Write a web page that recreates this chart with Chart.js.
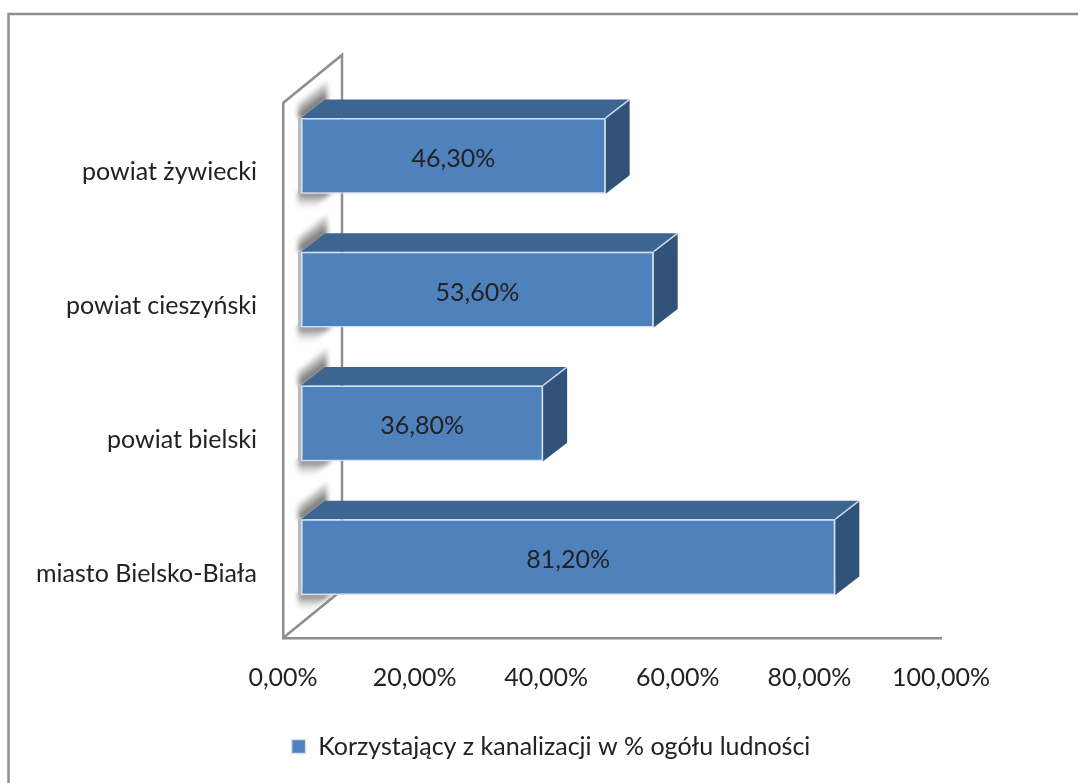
<!DOCTYPE html>
<html>
<head>
<meta charset="utf-8">
<style>html,body{margin:0;padding:0;background:#fff}canvas{display:block}</style>
<script src="https://cdn.jsdelivr.net/npm/chart.js@4"></script>
</head>
<body>
<canvas id="c" width="1078" height="783"></canvas>
<script>
const categories = ['powiat żywiecki', 'powiat cieszyński', 'powiat bielski', 'miasto Bielsko-Biała'];
const values = [46.3, 53.6, 36.8, 81.2];
const seriesName = 'Korzystający z kanalizacji w % ogółu ludności';
const axisMax = 100;
const axisStep = 20;

const FONT = 'Lato, "Open Sans", sans-serif';
const FS = 25;
const TEXT = '#222222';
const GRAY = '#8e8e8e';
const SHIFT_X = 18, SHIFT_Y = -14, DX = 24, DY = 18.5;
const fmt = v => v.toFixed(2).replace('.', ',') + '%';

const scene = {
  id: 'scene',
  afterLayout(chart) {
    chart.legend.left = 161;
    chart.legend.right = 941;
  },
  beforeDraw(chart) {
    const g = chart.ctx;
    g.save();
    g.fillStyle = '#fff';
    g.fillRect(0, 0, chart.width, chart.height);
    g.strokeStyle = GRAY; g.lineWidth = 2.5;
    g.beginPath(); g.moveTo(8.5, chart.height); g.lineTo(8.5, 14); g.lineTo(chart.width, 14); g.stroke();
    g.restore();
  },
  beforeDatasetsDraw(chart) {
    const g = chart.ctx, a = chart.chartArea;
    g.save();
    g.strokeStyle = GRAY; g.lineWidth = 2.5;
    const bx = a.left + 59, by = a.top - 48;
    g.beginPath(); g.moveTo(a.left, a.top); g.lineTo(bx, by); g.lineTo(bx, a.bottom - 48); g.stroke();
    g.beginPath(); g.moveTo(a.left, a.bottom); g.lineTo(bx, a.bottom - 48); g.stroke();

    const els = chart.getDatasetMeta(0).data;
    g.translate(SHIFT_X, SHIFT_Y);
    els.forEach(el => {
      const L = el.base, R = el.x, T = el.y - el.height / 2, B = el.y + el.height / 2;
      g.save();
      g.filter = 'blur(2.5px)';
      let gr = g.createLinearGradient(L + 12, T - 9, L - 2, T - 28);
      gr.addColorStop(0, 'rgba(85,85,85,.95)'); gr.addColorStop(1, 'rgba(210,210,210,0)');
      g.fillStyle = gr;
      g.beginPath(); g.moveTo(L - 3, T); g.lineTo(L - 3, T - 14); g.lineTo(L + 26, T - 37);
      g.lineTo(L + 26, T - 18); g.lineTo(L + 2, T); g.closePath(); g.fill();
      gr = g.createLinearGradient(0, B, 0, B + 16);
      gr.addColorStop(0, 'rgba(110,110,110,.9)'); gr.addColorStop(1, 'rgba(225,225,225,0)');
      g.fillStyle = gr;
      g.beginPath(); g.moveTo(L - 3, B - 2); g.lineTo(L + 32, B - 2); g.lineTo(L + 10, B + 16); g.lineTo(L - 3, B + 16); g.closePath(); g.fill();
      g.restore();
      g.fillStyle = '#b9b9b9';
      g.fillRect(L - 3, T, 3, B - T);
      // top face
      g.fillStyle = '#3d6592';
      g.beginPath(); g.moveTo(L, T); g.lineTo(L + DX, T - DY); g.lineTo(R + DX, T - DY); g.lineTo(R, T); g.closePath(); g.fill();
      // side face
      g.fillStyle = '#315279';
      g.beginPath(); g.moveTo(R, T); g.lineTo(R + DX, T - DY); g.lineTo(R + DX, B - DY); g.lineTo(R, B); g.closePath(); g.fill();
      g.lineWidth = 1.5; g.strokeStyle = 'rgba(215,228,242,.9)';
      g.beginPath(); g.moveTo(R, T); g.lineTo(R + DX, T - DY); g.stroke();
    });
  },
  afterDatasetsDraw(chart) {
    const g = chart.ctx;
    g.font = FS + 'px ' + FONT; g.fillStyle = TEXT;
    g.textAlign = 'center'; g.textBaseline = 'middle';
    chart.getDatasetMeta(0).data.forEach((el, i) => {
      g.fillText(fmt(values[i]), (el.base + el.x) / 2, el.y + 3);
    });
    g.restore();
  }
};

new Chart(document.getElementById('c'), {
  type: 'bar',
  plugins: [scene],
  data: {
    labels: categories,
    datasets: [{
      label: seriesName,
      data: values,
      backgroundColor: '#4f81bd',
      borderColor: '#d3e0ef',
      borderWidth: 1.5,
      borderSkipped: false,
      barPercentage: 0.568,
      categoryPercentage: 1,
      clip: false
    }]
  },
  options: {
    indexAxis: 'y',
    responsive: false,
    animation: false,
    layout: { padding: { left: 0, right: 137, top: 103, bottom: 14 } },
    plugins: {
      tooltip: { enabled: false },
      legend: {
        position: 'bottom',
        labels: { boxWidth: 14, boxHeight: 14, padding: 10, color: TEXT, font: { family: FONT, size: FS } }
      }
    },
    scales: {
      x: {
        min: 0, max: axisMax,
        grid: { display: false, drawTicks: false },
        border: { color: GRAY, width: 2.5 },
        ticks: { stepSize: axisStep, padding: 25, maxRotation: 0, color: TEXT, font: { family: FONT, size: FS }, callback: v => fmt(v) },
        afterFit(s) { s.height = 86; }
      },
      y: {
        grid: { display: false, drawTicks: false },
        border: { color: GRAY, width: 2.5 },
        ticks: { padding: 26, labelOffset: 2.5, color: TEXT, font: { family: FONT, size: FS } },
        afterFit(s) { s.width = 283; }
      }
    }
  }
});
</script>
</body>
</html>
